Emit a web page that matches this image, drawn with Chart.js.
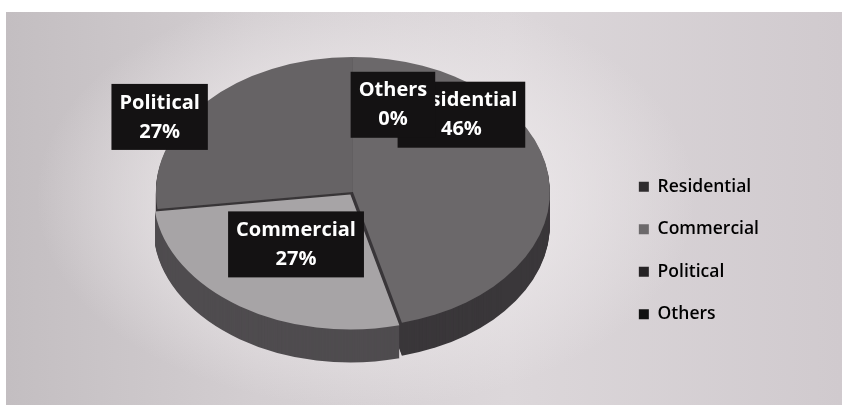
<!DOCTYPE html>
<html>
<head>
<meta charset="utf-8">
<script src="https://cdn.jsdelivr.net/npm/chart.js@4.4.1/dist/chart.umd.min.js"></script>
<style>
  html, body { margin: 0; padding: 0; background: #fff; }
  #wrap {
    position: relative; width: 842px; height: 405px; overflow: hidden;
    background: #fff;
  }
  #paper {
    position: absolute; left: 6px; top: 12px; right: 0; bottom: 0;
    background:
      radial-gradient(ellipse 330px 210px at 360px 185px, rgba(248,246,247,0.95) 0%, rgba(236,232,234,0.7) 55%, rgba(220,214,218,0) 100%),
      linear-gradient(90deg, #c3bec1 0%, #d3ced1 30%, #dcd7da 60%, #d0cace 100%);
  }
  canvas { position: absolute; left: 0; top: 0; }
</style>
</head>
<body>
<div id="wrap">
  <div id="paper"></div>
  <canvas id="pie" width="842" height="405"></canvas>
</div>
<script>
// --- data ---
const categories = ['Residential', 'Commercial', 'Political', 'Others'];
const shares = [46, 27, 27, 0];

// --- look ---
const faceColors = ['#6b686a', '#a7a4a6', '#666365', '#111111'];
const sideColors = ['#3a373a', '#4f4c4f', '#393638', '#0a0a0a'];
const legendColors = ['#2f2c2e', '#6c696b', '#262325', '#111111'];
const sliceOffset = [0, 18, 0, 0];
// label box nudges from the slice anchor, px
const LABEL_NUDGE = [[1, -68], [4, -9], [-112, -26], [40, -13]];

// squash the round pie into a tilted disc and give it a rim
const tiltPlugin = {
    id: 'tilt',
    beforeDatasetsDraw(chart, args, opts) {
        const arcs = chart.getDatasetMeta(0).data;
        const ctx = chart.ctx;
        const { x, y } = arcs[0];
        const tilt = (dy) => {
            ctx.translate(0, opts.centerY - y + dy);
            ctx.translate(x, y);
            ctx.scale(1, opts.ratio);
            ctx.translate(-x, -y);
        };
        for (let k = opts.depth; k > 0; k--) {
            ctx.save();
            tilt(k);
            arcs.forEach((arc, i) => {
                const side = Object.create(arc);
                side.options = { ...arc.options, backgroundColor: sideColors[i], borderWidth: 0 };
                side.draw(ctx);
            });
            ctx.restore();
        }
        ctx.save();
        tilt(0);
    },
    afterDatasetsDraw(chart) {
        chart.ctx.restore();
    },
};

// black boxes with white text, like the data labels of the original
const boxLabels = {
    id: 'boxLabels',
    afterDatasetsDraw(chart) {
        const ctx = chart.ctx;
        const arcs = chart.getDatasetMeta(0).data;
        const t = chart.options.plugins.tilt;
        ctx.save();
        ctx.font = '700 20px "Open Sans"';
        ctx.textAlign = 'center';
        ctx.textBaseline = 'middle';
        arcs.forEach((arc, i) => {
            const mid = (arc.startAngle + arc.endAngle) / 2;
            const r = arc.outerRadius * 0.55;
            const ax = arc.x + Math.cos(mid) * r + LABEL_NUDGE[i][0];
            const ay = t.centerY + Math.sin(mid) * r * t.ratio + LABEL_NUDGE[i][1];
            const lines = [categories[i], shares[i] + '%'];
            const w = Math.max(...lines.map(s => ctx.measureText(s).width)) + 16;
            const h = 66;
            ctx.fillStyle = '#141213';
            ctx.fillRect(ax - w / 2, ay - h / 2, w, h);
            ctx.fillStyle = '#ffffff';
            ctx.fillText(lines[0], ax, ay - 14);
            ctx.fillText(lines[1], ax, ay + 15);
        });
        ctx.restore();
    },
};

new Chart(document.getElementById('pie'), {
    type: 'pie',
    data: {
        labels: categories,
        datasets: [{
            data: shares,
            backgroundColor: faceColors,
            borderWidth: 0,
            offset: sliceOffset,
            clip: false,
        }],
    },
    options: {
        responsive: false,
        animation: false,
        radius: 197,
        layout: { padding: { left: 92, right: 73, top: 96, bottom: 0 } },
        plugins: {
            tooltip: { enabled: false },
            tilt: { centerY: 192, ratio: 0.685, depth: 33 },
            legend: {
                position: 'right',
                labels: {
                    boxWidth: 10,
                    boxHeight: 10,
                    padding: 25,
                    color: '#1b1a1b',
                    font: { size: 17.5, weight: '600', family: '"Open Sans"' },
                    generateLabels: () => categories.map((c, i) => ({
                        text: c,
                        fillStyle: legendColors[i],
                        strokeStyle: legendColors[i],
                        lineWidth: 0,
                        hidden: false,
                        index: i,
                    })),
                },
            },
        },
    },
    plugins: [tiltPlugin, boxLabels],
});
</script>
</body>
</html>
